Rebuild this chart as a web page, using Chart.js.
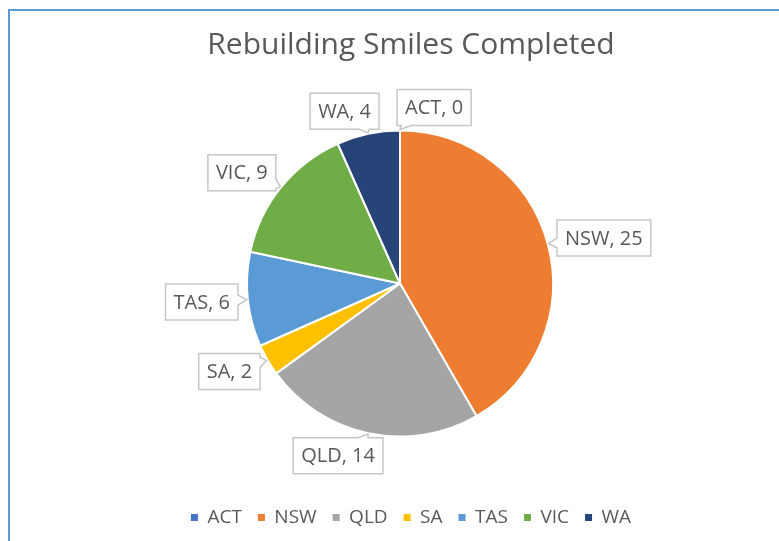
<!DOCTYPE html>
<html>
<head>
<meta charset="utf-8">
<script src="https://cdn.jsdelivr.net/npm/chart.js@4/dist/chart.umd.min.js"></script>
<style>
  body { margin: 0; background: #fff; overflow: hidden; }
  #frame {
    position: absolute; left: 8px; top: 9px;
    width: 830px; height: 540px;
    border-top: 2px solid #5B9BD5; border-left: 2px solid #5B9BD5;
  }
  #wrap { position: absolute; left: 0; top: 0; width: 802px; height: 530px; }
</style>
</head>
<body>
<div id="frame"><div id="wrap"><canvas id="smilesChart"></canvas></div></div>
<script>
// chart data
var categories = ['ACT', 'NSW', 'QLD', 'SA', 'TAS', 'VIC', 'WA'];
var completed = [0, 25, 14, 2, 6, 9, 4];
var sliceColours = ['#4472C4', '#ED7D31', '#A5A5A5', '#FFC000', '#5B9BD5', '#70AD47', '#264478'];

var textGrey = '#595959';
var fontFamily = '"Open Sans", "Liberation Sans", sans-serif';

// the pie sits a little left of the title and legend in the original
var nudgePie = {
    id: 'nudgePie',
    afterLayout: function (chart) {
        chart.chartArea.left -= 11;
        chart.chartArea.right -= 11;
    }
};

// callout labels: "Name, value" in a box with a little pointer to the slice
var calloutLabels = {
    id: 'calloutLabels',
    afterDatasetsDraw: function (chart) {
        var ctx = chart.ctx;
        var meta = chart.getDatasetMeta(0);
        var boxes = [];
        ctx.save();
        ctx.font = '20px ' + fontFamily;
        meta.data.forEach(function (arc, i) {
            var p = arc.getProps(['x', 'y', 'startAngle', 'endAngle', 'outerRadius'], true);
            var mid = (p.startAngle + p.endAngle) / 2;
            var cos = Math.cos(mid), sin = Math.sin(mid);
            var text = categories[i] + ', ' + completed[i];
            var w = ctx.measureText(text).width + 16;
            var h = 36;
            var ax = p.x + cos * (p.outerRadius + 10);
            var ay = p.y + sin * (p.outerRadius + 5);
            var push = Math.sign(cos) * Math.pow(Math.abs(cos), 0.3);
            boxes.push({
                text: text, w: w, h: h, value: completed[i],
                cx: ax + push * w / 2, cy: ay + sin * h / 2,
                tx: p.x + cos * (p.outerRadius + 1), ty: p.y + sin * (p.outerRadius + 1)
            });
        });
        // move the smaller box aside when two overlap (the zero slice sits on top of WA)
        for (var a = 0; a < boxes.length; a++) {
            for (var b = a + 1; b < boxes.length; b++) {
                var A = boxes[a], B = boxes[b];
                var ox = (A.w + B.w) / 2 + 18 - Math.abs(A.cx - B.cx);
                var oy = (A.h + B.h) / 2 + 2 - Math.abs(A.cy - B.cy);
                if (ox > 0 && oy > 0) {
                    var small = A.value <= B.value ? A : B;
                    var other = small === A ? B : A;
                    small.cx += (small.cx >= other.cx ? 1 : -1) * ox;
                }
            }
        }
        boxes.forEach(function (bx) {
            var l = bx.cx - bx.w / 2, r = bx.cx + bx.w / 2;
            var t = bx.cy - bx.h / 2, btm = bx.cy + bx.h / 2;
            var dx = bx.tx - bx.cx, dy = bx.ty - bx.cy;
            var pts = [];
            var notch = 5;
            var clampX = function (v) { return Math.min(Math.max(v, l + notch + 2), r - notch - 2); };
            var clampY = function (v) { return Math.min(Math.max(v, t + notch + 2), btm - notch - 2); };
            var edge, m;
            if (Math.abs(dx) / (bx.w / 2) > Math.abs(dy) / (bx.h / 2)) {
                edge = dx > 0 ? 'right' : 'left';
                m = clampY(bx.cy + dy * (bx.w / 2) / Math.abs(dx));
            } else {
                edge = dy > 0 ? 'bottom' : 'top';
                m = clampX(bx.cx + dx * (bx.h / 2) / Math.abs(dy));
            }
            pts.push([l, t]);
            if (edge === 'top') pts.push([m - notch, t], [bx.tx, bx.ty], [m + notch, t]);
            pts.push([r, t]);
            if (edge === 'right') pts.push([r, m - notch], [bx.tx, bx.ty], [r, m + notch]);
            pts.push([r, btm]);
            if (edge === 'bottom') pts.push([m + notch, btm], [bx.tx, bx.ty], [m - notch, btm]);
            pts.push([l, btm]);
            if (edge === 'left') pts.push([l, m + notch], [bx.tx, bx.ty], [l, m - notch]);

            ctx.beginPath();
            pts.forEach(function (pt, k) {
                if (k === 0) ctx.moveTo(pt[0], pt[1]); else ctx.lineTo(pt[0], pt[1]);
            });
            ctx.closePath();
            ctx.fillStyle = '#ffffff';
            ctx.fill();
            ctx.lineWidth = 1.5;
            ctx.strokeStyle = '#C6C6C6';
            ctx.stroke();

            ctx.fillStyle = textGrey;
            ctx.textAlign = 'center';
            ctx.textBaseline = 'middle';
            ctx.fillText(bx.text, bx.cx, bx.cy + 1);
        });
        ctx.restore();
    }
};

var ctx = document.getElementById('smilesChart').getContext('2d');
var baseLabels = (Chart.overrides.pie || Chart.overrides.doughnut).plugins.legend.labels.generateLabels;

var smilesChart = new Chart(ctx, {
    type: 'pie',
    data: {
        labels: categories,
        datasets: [{
            data: completed,
            backgroundColor: sliceColours,
            borderColor: '#ffffff',
            borderWidth: 2,
            hoverOffset: 0,
            radius: 153
        }]
    },
    options: {
        responsive: true,
        maintainAspectRatio: false,
        animation: false,
        layout: { padding: { top: 0, bottom: 4 } },
        plugins: {
            title: {
                display: true,
                text: 'Rebuilding Smiles Completed',
                color: textGrey,
                font: { family: fontFamily, size: 30, weight: 'normal' },
                padding: { top: 16, bottom: 12 }
            },
            legend: {
                position: 'bottom',
                labels: {
                    color: textGrey,
                    font: { family: fontFamily, size: 19 },
                    boxWidth: 7,
                    boxHeight: 7,
                    padding: 16,
                    generateLabels: function (chart) {
                        return baseLabels(chart).map(function (item) {
                            item.lineWidth = 0;
                            item.strokeStyle = item.fillStyle;
                            return item;
                        });
                    }
                }
            },
            tooltip: { enabled: false }
        }
    },
    plugins: [nudgePie, calloutLabels]
});
</script>
</body>
</html>
